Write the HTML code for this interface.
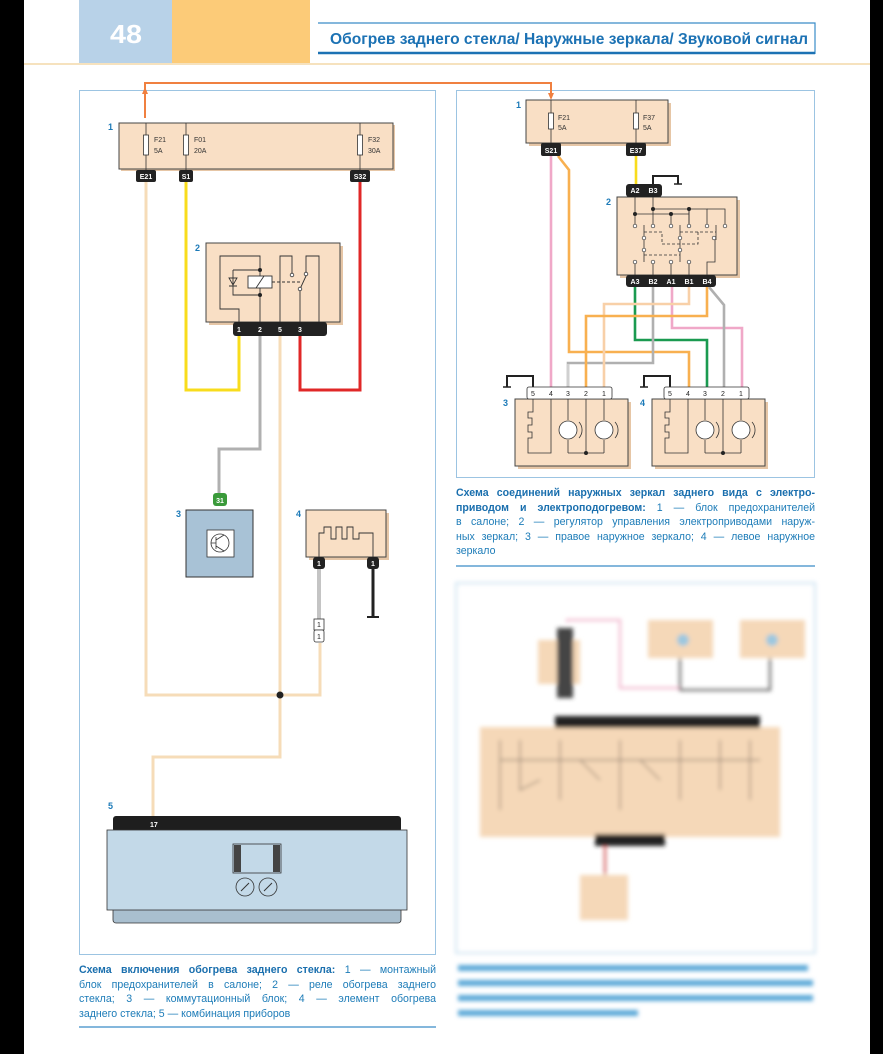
<!DOCTYPE html>
<html><head><meta charset="utf-8"><style>
body{margin:0;width:883px;height:1054px;overflow:hidden;background:#fff;position:relative;font-family:"Liberation Sans",sans-serif}
.cap{position:absolute;font-size:10.6px;line-height:14.5px;color:#1d7cb8}
.cap div{text-align:justify;text-align-last:justify;white-space:nowrap}
.cap b{color:#1a6fae}
.cap div.l{text-align-last:left}
</style></head><body>
<svg width="883" height="1054" style="position:absolute;left:0;top:0" font-family="Liberation Sans, sans-serif">
<defs><filter id="bl"><feGaussianBlur stdDeviation="2.2"/></filter></defs>
<rect x="0" y="0" width="24" height="1054" fill="#000"/>
<rect x="870" y="0" width="13" height="1054" fill="#000"/>
<rect x="79" y="0" width="93" height="63" fill="#b8d2e8"/>
<rect x="172" y="0" width="138" height="63" fill="#fccb78"/>
<text x="126" y="43" text-anchor="middle" font-size="26" font-weight="bold" fill="#fff" textLength="32" lengthAdjust="spacingAndGlyphs">48</text>
<line x1="24" y1="64" x2="870" y2="64" stroke="#f3d8a8" stroke-width="1.5"/>
<polyline points="318,23 815,23 815,54" fill="none" stroke="#3a8cc8" stroke-width="1.2"/>
<line x1="318" y1="53" x2="815" y2="53" stroke="#1c72b4" stroke-width="2.5"/>
<text x="808" y="44" text-anchor="end" font-size="16" font-weight="bold" fill="#1c72b4" textLength="478" lengthAdjust="spacingAndGlyphs">Обогрев заднего стекла/ Наружные зеркала/ Звуковой сигнал</text>

<!-- frames -->
<rect x="79.5" y="90.5" width="356" height="864" fill="none" stroke="#9cc4e2"/>
<rect x="456.5" y="90.5" width="358" height="387" fill="none" stroke="#9cc4e2"/>
<line x1="79" y1="1027" x2="436" y2="1027" stroke="#3a8cc8" stroke-width="1.2"/>
<line x1="456" y1="566" x2="815" y2="566" stroke="#3a8cc8" stroke-width="1.2"/>

<!-- orange link -->
<polyline points="145,118 145,83 551,83 551,98" fill="none" stroke="#f08040" stroke-width="2"/>
<path d="M142,94 L145,87 L148,94Z M548,93 L551,100 L554,93Z" fill="#f08040"/>

<!-- LEFT wires -->
<g fill="none" stroke-width="3">
<polyline points="146,182 146,695 320,695 320,643" stroke="#f6dcb8"/>
<polyline points="280,336 280,757 153,757 153,818" stroke="#f6dcb8"/>
<polyline points="186,182 186,390 239,390 239,336" stroke="#f8dc1c"/>
<polyline points="360,182 360,390 300,390 300,336" stroke="#e02828"/>
<polyline points="260,336 260,449 219,449 219,495" stroke="#b0b0b0"/>
</g>
<circle cx="280" cy="695" r="3.5" fill="#222"/>

<!-- block 1 left -->
<rect x="121" y="125" width="274" height="46" fill="#e6c6a6"/>
<rect x="119" y="123" width="274" height="46" fill="#f9dfc5" stroke="#444" stroke-width="1"/>
<text x="108" y="130" font-size="9" font-weight="bold" fill="#1c7ab8">1</text>
<g stroke="#333" stroke-width="0.8">
<line x1="146" y1="123" x2="146" y2="170"/><line x1="186" y1="123" x2="186" y2="170"/><line x1="360" y1="123" x2="360" y2="170"/>
<rect x="143.5" y="135" width="5" height="20" fill="#fff"/><rect x="183.5" y="135" width="5" height="20" fill="#fff"/><rect x="357.5" y="135" width="5" height="20" fill="#fff"/>
</g>
<g font-size="7" fill="#333"><text x="154" y="142">F21</text><text x="154" y="153">5A</text><text x="194" y="142">F01</text><text x="194" y="153">20A</text><text x="368" y="142">F32</text><text x="368" y="153">30A</text></g>
<g fill="#222"><rect x="136" y="170" width="20" height="12" rx="2"/><rect x="179" y="170" width="14" height="12" rx="2"/><rect x="350" y="170" width="20" height="12" rx="2"/></g>
<g font-size="7" font-weight="bold" fill="#fff" text-anchor="middle"><text x="146" y="179">E21</text><text x="186" y="179">S1</text><text x="360" y="179">S32</text></g>

<!-- relay 2 -->
<rect x="209" y="246" width="134" height="79" fill="#e6c6a6"/>
<rect x="206" y="243" width="134" height="79" fill="#f9dfc5" stroke="#444"/>
<text x="195" y="251" font-size="9" font-weight="bold" fill="#1c7ab8">2</text>
<g fill="none" stroke="#333" stroke-width="0.9">
<polyline points="239,322 239,309 220,309 220,256 260,256 260,322"/>
<polyline points="233,270 233,295 260,295"/><line x1="233" y1="270" x2="260" y2="270"/>
<path d="M229,286 L237,286 M229,278 L237,278 L233,285 Z"/>
<rect x="248" y="276" width="24" height="12" fill="#fff"/><line x1="256" y1="288" x2="264" y2="276"/>
<line x1="272" y1="282" x2="300" y2="282" stroke-dasharray="3,2"/>
<polyline points="280,322 280,256 292,256 292,273"/>
<polyline points="300,322 300,289 306,276 306,256 319,256 319,322"/>
</g>
<g fill="#222"><circle cx="260" cy="270" r="2"/><circle cx="260" cy="295" r="2"/></g>
<g fill="#fff" stroke="#333" stroke-width="0.8"><circle cx="292" cy="275" r="1.8"/><circle cx="306" cy="274" r="1.8"/><circle cx="300" cy="289" r="1.8"/></g>
<rect x="233" y="322" width="94" height="14" rx="3" fill="#222"/>
<g font-size="7" font-weight="bold" fill="#fff" text-anchor="middle"><text x="239" y="332">1</text><text x="260" y="332">2</text><text x="280" y="332">5</text><text x="300" y="332">3</text></g>

<!-- block 3 -->
<rect x="213" y="493" width="14" height="13" rx="3" fill="#3a9a3a"/>
<text x="220" y="503" font-size="7" font-weight="bold" fill="#fff" text-anchor="middle">31</text>
<rect x="186" y="510" width="67" height="67" fill="#a8c2d6" stroke="#333"/>
<text x="176" y="517" font-size="9" font-weight="bold" fill="#1c7ab8">3</text>
<rect x="207" y="530" width="27" height="27" fill="#fff" stroke="#333" stroke-width="0.8"/>
<circle cx="220" cy="543" r="9" fill="none" stroke="#333" stroke-width="0.8"/>
<path d="M211,543 L216,543 M216,537 L216,549 M216,540 L224,535 M216,546 L224,551" stroke="#333" stroke-width="0.8" fill="none"/>

<!-- block 4 -->
<rect x="309" y="513" width="80" height="47" fill="#e6c6a6"/>
<rect x="306" y="510" width="80" height="47" fill="#f9dfc5" stroke="#444"/>
<text x="296" y="517" font-size="9" font-weight="bold" fill="#1c7ab8">4</text>
<polyline points="319,560 319,533 324,533 324,527 331,527 331,539 336,539 336,527 342,527 342,539 347,539 347,527 353,527 353,539 359,539 359,533 373,533 373,560" fill="none" stroke="#333" stroke-width="0.9"/>
<g fill="#222"><rect x="313" y="557" width="12" height="12" rx="3"/><rect x="367" y="557" width="12" height="12" rx="3"/></g>
<g font-size="7" font-weight="bold" fill="#fff" text-anchor="middle"><text x="319" y="566">1</text><text x="373" y="566">1</text></g>
<line x1="319" y1="569" x2="319" y2="619" stroke="#888" stroke-width="3"/><line x1="319" y1="569" x2="319" y2="619" stroke="#fff" stroke-width="1"/>
<line x1="373" y1="569" x2="373" y2="616" stroke="#222" stroke-width="3"/><line x1="367" y1="617" x2="379" y2="617" stroke="#222" stroke-width="2"/>
<rect x="314" y="619" width="10" height="11" fill="#fff" stroke="#333" stroke-width="0.8"/>
<rect x="314" y="630" width="10" height="12" rx="2" fill="#fff" stroke="#333" stroke-width="0.8"/>
<g font-size="7" fill="#222" text-anchor="middle"><text x="319" y="627">1</text><text x="319" y="639">1</text></g>

<!-- block 5 -->
<text x="108" y="809" font-size="9" font-weight="bold" fill="#1c7ab8">5</text>
<rect x="113" y="816" width="288" height="16" rx="3" fill="#1e1e1e"/>
<text x="150" y="827" font-size="7" font-weight="bold" fill="#fff">17</text>
<rect x="113" y="905" width="288" height="18" rx="3" fill="#a9bfcf" stroke="#333" stroke-width="0.8"/>
<rect x="107" y="830" width="300" height="80" fill="#c3d9e8" stroke="#333" stroke-width="0.8"/>
<rect x="233" y="844" width="48" height="29" fill="#c3d9e8" stroke="#333" stroke-width="0.8"/>
<rect x="234" y="845" width="7" height="27" fill="#444"/><rect x="273" y="845" width="7" height="27" fill="#444"/>
<g fill="none" stroke="#333" stroke-width="0.8"><circle cx="245" cy="887" r="9"/><circle cx="268" cy="887" r="9"/></g>
<path d="M241,891 L249,883 M264,891 L272,883" stroke="#333"/>

<!-- RIGHT wires -->
<g fill="none" stroke-width="2.6">
<polyline points="551,156 551,388" stroke="#f0a8c8"/>
<polyline points="558,156 569,170 569,352 689,352 689,388" stroke="#f8b050"/>
<polyline points="636,156 636,184" stroke="#f8dc1c"/>
<polyline points="635,287 635,340 707,340 707,388" stroke="#1a9a50"/>
<polyline points="653,287 653,363 568,363 568,388" stroke="#b0b0b0"/>
<polyline points="672,287 672,328 742,328 742,388" stroke="#f0a8c8"/>
<polyline points="689,287 689,304 604,304 604,388" stroke="#f8d0a8"/>
<polyline points="707,287 707,316 586,316 586,388" stroke="#f8b050"/>
<polyline points="709,287 724,305 724,388" stroke="#b0b0b0"/>
</g>
<line x1="568" y1="364" x2="568" y2="388" stroke="#fff" stroke-width="0.8"/>

<!-- right block 1 -->
<rect x="529" y="103" width="142" height="43" fill="#e6c6a6"/>
<rect x="526" y="100" width="142" height="43" fill="#f9dfc5" stroke="#444"/>
<text x="516" y="108" font-size="9" font-weight="bold" fill="#1c7ab8">1</text>
<g stroke="#333" stroke-width="0.8"><line x1="551" y1="100" x2="551" y2="145"/><line x1="636" y1="100" x2="636" y2="145"/>
<rect x="548.5" y="113" width="5" height="16" fill="#fff"/><rect x="633.5" y="113" width="5" height="16" fill="#fff"/></g>
<g font-size="7" fill="#333"><text x="558" y="120">F21</text><text x="558" y="130">5A</text><text x="643" y="120">F37</text><text x="643" y="130">5A</text></g>
<g fill="#222"><rect x="541" y="143" width="20" height="13" rx="2"/><rect x="626" y="143" width="20" height="13" rx="2"/></g>
<g font-size="7" font-weight="bold" fill="#fff" text-anchor="middle"><text x="551" y="153">S21</text><text x="636" y="153">E37</text></g>

<!-- right block 2 -->
<polyline points="653,184 653,176 678,176 678,184" fill="none" stroke="#222" stroke-width="2"/>
<line x1="674" y1="184" x2="682" y2="184" stroke="#222" stroke-width="1.5"/>
<rect x="620" y="200" width="120" height="78" fill="#e6c6a6"/>
<rect x="617" y="197" width="120" height="78" fill="#f9dfc5" stroke="#444"/>
<text x="606" y="205" font-size="9" font-weight="bold" fill="#1c7ab8">2</text>
<rect x="626" y="184" width="36" height="13" rx="3" fill="#222"/>
<rect x="626" y="275" width="90" height="12" rx="3" fill="#222"/>
<g font-size="7" font-weight="bold" fill="#fff" text-anchor="middle"><text x="635" y="193">A2</text><text x="653" y="193">B3</text>
<text x="635" y="284">A3</text><text x="653" y="284">B2</text><text x="671" y="284">A1</text><text x="689" y="284">B1</text><text x="707" y="284">B4</text></g>
<g fill="none" stroke="#333" stroke-width="0.8">
<polyline points="635,197 635,214 689,214 689,225"/><polyline points="653,197 653,209 707,209 707,225"/>
<line x1="671" y1="214" x2="671" y2="225"/><line x1="689" y1="209" x2="689" y2="225"/>
<line x1="653" y1="209" x2="653" y2="225"/><line x1="635" y1="214" x2="635" y2="225"/>
<polyline points="707,209 725,209 725,225"/><polyline points="689,214 689,210"/>
<line x1="644" y1="225" x2="644" y2="262"/><line x1="680" y1="225" x2="680" y2="262"/><line x1="716" y1="225" x2="716" y2="240"/>
<path d="M644,232 L662,232 L662,244 L680,244 M680,232 L716,232 M698,232 L698,244 L680,244 M644,255 L680,255" stroke-dasharray="3,2"/>
<polyline points="635,262 635,275"/><polyline points="653,262 653,275"/><polyline points="671,262 671,275"/><polyline points="689,262 689,275"/>
<polyline points="715,240 715,262 707,262 707,275"/>
</g>
<g fill="#222"><circle cx="635" cy="214" r="2"/><circle cx="653" cy="209" r="2"/><circle cx="671" cy="214" r="2"/><circle cx="689" cy="209" r="2"/></g>
<g fill="#fff" stroke="#333" stroke-width="0.7">
<circle cx="635" cy="226" r="1.8"/><circle cx="653" cy="226" r="1.8"/><circle cx="671" cy="226" r="1.8"/><circle cx="689" cy="226" r="1.8"/><circle cx="707" cy="226" r="1.8"/><circle cx="725" cy="226" r="1.8"/>
<circle cx="644" cy="238" r="1.8"/><circle cx="680" cy="238" r="1.8"/><circle cx="714" cy="238" r="1.8"/>
<circle cx="644" cy="250" r="1.8"/><circle cx="680" cy="250" r="1.8"/>
<circle cx="635" cy="262" r="1.8"/><circle cx="653" cy="262" r="1.8"/><circle cx="671" cy="262" r="1.8"/><circle cx="689" cy="262" r="1.8"/></g>

<!-- mirrors -->
<g id="m">
<polyline points="507,387 507,376 533,376 533,387" fill="none" stroke="#222" stroke-width="2"/>
<line x1="503" y1="387" x2="511" y2="387" stroke="#222" stroke-width="1.5"/>
<rect x="518" y="402" width="113" height="67" fill="#e6c6a6"/>
<rect x="515" y="399" width="113" height="67" fill="#f9dfc5" stroke="#444"/>
<rect x="527" y="387" width="85" height="12" rx="2" fill="#fff" stroke="#333" stroke-width="0.8"/>
<g fill="none" stroke="#333" stroke-width="0.8">
<polyline points="533,399 533,412 528,412 528,418 532,418 532,425 528,425 528,432 532,432 532,438 528,438 528,453 551,453 551,399"/>
<line x1="568" y1="399" x2="568" y2="420"/><line x1="568" y1="440" x2="568" y2="453"/><line x1="568" y1="453" x2="604" y2="453"/>
<line x1="586" y1="399" x2="586" y2="453"/>
<line x1="604" y1="399" x2="604" y2="420"/><line x1="604" y1="440" x2="604" y2="453"/>
<circle cx="568" cy="430" r="9" fill="#fff"/><circle cx="604" cy="430" r="9" fill="#fff"/>
<path d="M579,422 A12,12 0 0 1 579,438 M615,422 A12,12 0 0 1 615,438"/>
</g>
<circle cx="586" cy="453" r="2" fill="#222"/>
<g font-size="7" fill="#222" text-anchor="middle"><text x="533" y="396">5</text><text x="551" y="396">4</text><text x="568" y="396">3</text><text x="586" y="396">2</text><text x="604" y="396">1</text></g>
</g>
<use href="#m" transform="translate(137,0)"/>
<text x="503" y="406" font-size="9" font-weight="bold" fill="#1c7ab8">3</text>
<text x="640" y="406" font-size="9" font-weight="bold" fill="#1c7ab8">4</text>

<!-- blurred diagram -->
<g filter="url(#bl)">
<rect x="456" y="583" width="359" height="370" fill="none" stroke="#d0e4f2" stroke-width="2"/>
<polyline points="567,622 567,620 620,620 620,688 680,688" fill="none" stroke="#f0b0c8" stroke-width="2"/>
<polyline points="680,650 680,690 770,690 770,655" fill="none" stroke="#555" stroke-width="2"/>
<rect x="538" y="640" width="42" height="44" fill="#f5d8b8"/>
<rect x="557" y="628" width="16" height="70" fill="#444"/>
<rect x="648" y="620" width="65" height="38" fill="#f5d8b8"/>
<rect x="740" y="620" width="65" height="38" fill="#f5d8b8"/>
<circle cx="683" cy="640" r="6" fill="#9cc8e0"/><circle cx="772" cy="640" r="6" fill="#9cc8e0"/>
<rect x="480" y="727" width="300" height="110" fill="#f5d8b8"/>
<rect x="555" y="716" width="205" height="12" fill="#222"/>
<rect x="595" y="834" width="70" height="12" fill="#222"/>
<line x1="605" y1="846" x2="605" y2="880" stroke="#c44" stroke-width="2"/>
<rect x="580" y="875" width="48" height="45" fill="#f5d8b8"/>
<g stroke="#8a7a6a" stroke-width="1.2" fill="none">
<path d="M500,740 L500,810 M520,740 L520,790 L540,780 M560,740 L560,800 M580,760 L600,780 M620,740 L620,810 M640,760 L660,780 M680,740 L680,800 M720,740 L720,790 M750,740 L750,800 M500,760 L760,760"/>
</g>
<g fill="#5aa8d8">
<rect x="458" y="965" width="350" height="6"/><rect x="458" y="980" width="355" height="6"/><rect x="458" y="995" width="355" height="6"/><rect x="458" y="1010" width="180" height="6"/>
</g>
</g>
</svg>

<div class="cap" style="left:79px;top:963px;width:357px">
<div><b>Схема включения обогрева заднего стекла:</b> 1 — монтажный</div>
<div>блок предохранителей в салоне; 2 — реле обогрева заднего</div>
<div>стекла; 3 — коммутационный блок; 4 — элемент обогрева</div>
<div class="l">заднего стекла; 5 — комбинация приборов</div>
</div>
<div class="cap" style="left:456px;top:486px;width:359px">
<div><b>Схема соединений наружных зеркал заднего вида с электро-</b></div>
<div><b>приводом и электроподогревом:</b> 1 — блок предохранителей</div>
<div>в салоне; 2 — регулятор управления электроприводами наруж-</div>
<div>ных зеркал; 3 — правое наружное зеркало; 4 — левое наружное</div>
<div class="l">зеркало</div>
</div>
</body></html>
